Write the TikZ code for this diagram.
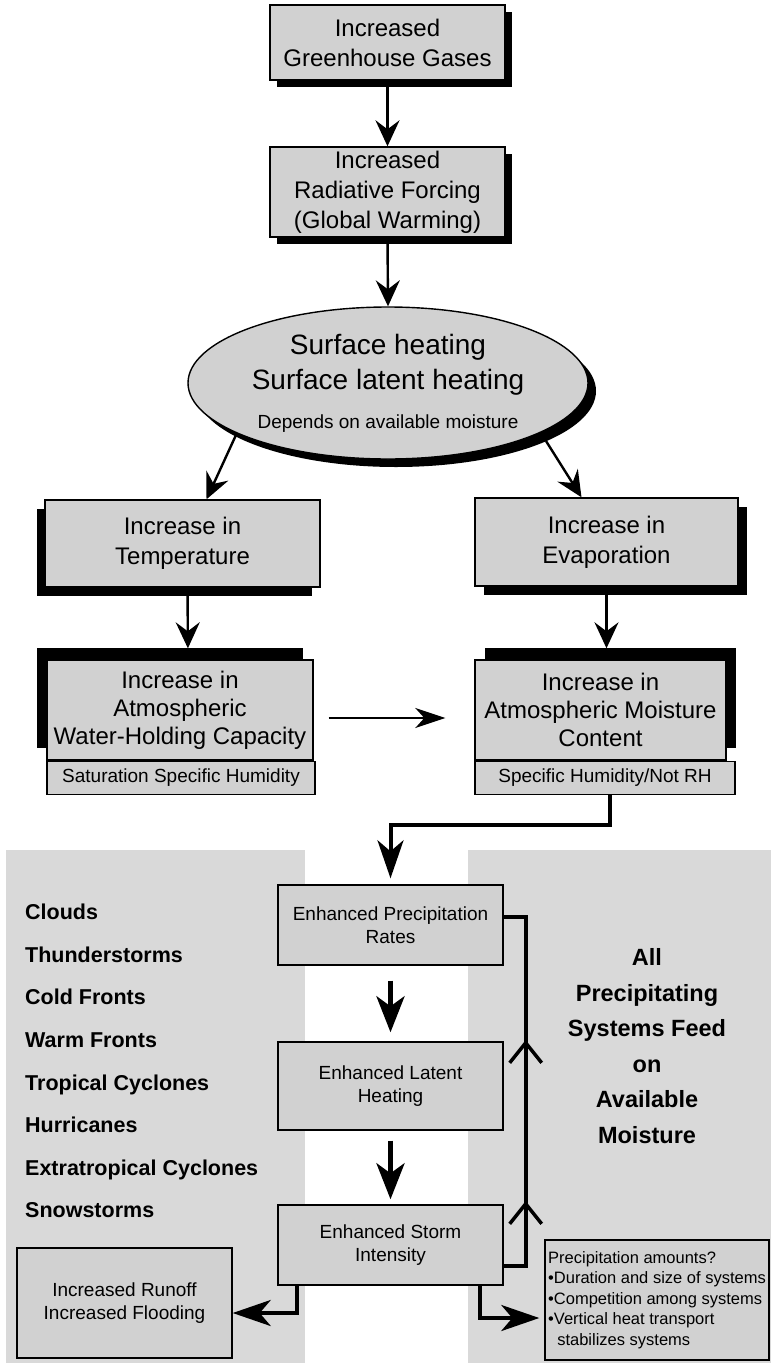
\documentclass[tikz,border=0pt]{standalone}
\usepackage{fontspec}
\setmainfont{Liberation Sans}
\usetikzlibrary{arrows.meta,shapes.geometric,shadows,calc,decorations.markings}
\newcommand\myfs[2]{\fontsize{#1}{#2}\selectfont}
\definecolor{boxgray}{gray}{0.82}
\definecolor{panelgray}{gray}{0.85}
\begin{document}
\begin{tikzpicture}[x=1pt,y=-1pt,
  bx/.style={draw=black, line width=1.4pt, fill=boxgray, inner sep=0pt, align=center},
  topbx/.style={bx, font=\myfs{24}{30}},
  lowbx/.style={bx, font=\myfs{19}{23}},
  subbx/.style={bx, font=\myfs{19}{22}, minimum height=33pt, anchor=north west},
  shBR/.style={general shadow={fill=black, shadow xshift=7pt, shadow yshift=-7pt}},
  shEl/.style={general shadow={fill=black, shadow xshift=8pt, shadow yshift=-8pt}},
  shBL/.style={general shadow={fill=black, shadow xshift=-8pt, shadow yshift=-9pt}},
  shBRb/.style={general shadow={fill=black, shadow xshift=9pt, shadow yshift=-9pt}},
  shTL/.style={general shadow={fill=black, shadow xshift=-10pt, shadow yshift=12pt}},
  shTR/.style={general shadow={fill=black, shadow xshift=10pt, shadow yshift=12pt}},
  arr/.style={line width=2.4pt, -{Stealth[length=26pt, width=24pt, inset=9pt]}},
  harr/.style={line width=2.2pt, -{Stealth[length=30pt, width=20pt, inset=9pt]}},
  thk/.style={line width=4pt, -{Stealth[length=38pt, width=26pt, inset=11pt]}},
  thkarr/.style={line width=5pt, -{Stealth[length=36pt, width=28pt, inset=10pt]}},
  fb/.style={line width=4pt}
]
\useasboundingbox (0,0) rectangle (771,1363);
\fill[white] (0,0) rectangle (771,1363);
% lower panels
\fill[panelgray] (6,850) rectangle (305,1363);
\fill[panelgray] (468,850) rectangle (771,1363);

% top chain
\node[topbx, shBR, minimum width=235pt, minimum height=75pt] (box1) at (387.5,42.5)
  {Increased\\Greenhouse Gases};
\node[topbx, shBR, minimum width=235pt, minimum height=90pt] (box2) at (387.5,192)
  {Increased\\Radiative Forcing\\(Global Warming)};
\node[bx, shEl, ellipse, font=\myfs{28}{35}, minimum width=400pt, minimum height=152pt] (ell) at (388,383)
  {Surface heating\\Surface latent heating\\[4pt]\myfs{19}{35}Depends on available moisture};

\node[topbx, shBL, minimum width=275pt, minimum height=87pt] (temp) at (182.5,543.5)
  {Increase in\\Temperature};
\node[topbx, shBRb, minimum width=263pt, minimum height=88pt] (evap) at (606.5,542)
  {Increase in\\Evaporation};

\node[topbx, shTL, font=\myfs{24}{28}, minimum width=266pt, minimum height=100pt] (water) at (180,710)
  {Increase in\\Atmospheric\\Water-Holding Capacity};
\node[subbx, minimum width=268pt] (wsub) at (water.south west) {Saturation Specific Humidity};

\node[topbx, shTR, font=\myfs{24}{28}, minimum width=251pt, minimum height=100pt] (moist) at (600.5,710)
  {Increase in\\Atmospheric Moisture\\Content};
\node[subbx, minimum width=260pt] (msub) at (moist.south west) {Specific Humidity/Not RH};

% lower chain
\node[lowbx, minimum width=225pt, minimum height=80pt] (precip) at (390.5,925)
  {Enhanced Precipitation\\Rates};
\node[lowbx, minimum width=225pt, minimum height=88pt] (latent) at (390.5,1086)
  {Enhanced Latent\\Heating};
\node[lowbx, minimum width=225pt, minimum height=80pt] (storm) at (390.5,1245)
  {Enhanced Storm\\Intensity};
\node[lowbx, minimum width=215pt, minimum height=110pt] (runoff) at (124.5,1303)
  {Increased Runoff\\Increased Flooding};
\node[bx, font=\myfs{16.5}{20.5}, align=left, minimum width=224pt, minimum height=120pt] (bullets) at (657,1300)
  {Precipitation amounts?\\\textbullet Duration and size of systems\\\textbullet Competition among systems\\\textbullet Vertical heat transport\\\hspace*{0.55em}stabilizes systems};

\node[font=\myfs{21.5}{42.6}\bfseries, align=left, anchor=west, inner sep=0pt] (list) at (25,1061)
  {Clouds\\Thunderstorms\\Cold Fronts\\Warm Fronts\\Tropical Cyclones\\Hurricanes\\Extratropical Cyclones\\Snowstorms};
\node[font=\myfs{23.5}{35.6}\bfseries, align=center, inner sep=0pt] (rtext) at (647,1046)
  {All\\Precipitating\\Systems Feed\\on\\Available\\Moisture};

% connectors
\draw[arr] (box1.south) -- (box2.north);
\draw[arr] (box2.south) -- (ell.north);
\draw[arr] ($(ell.center)+(-152,52)$) -- ($(temp.north)+(24,0)$);
\draw[arr] ($(ell.center)+(158,58)$) -- ($(evap.north)+(-25,0)$);
\draw[arr, shorten >=11pt] ($(temp.south)+(5,0)$) -- ($(water.north)+(8,0)$);
\draw[arr, shorten >=11pt] (evap.south) -- (evap.south |- moist.north);
\draw[harr] ($(water.east)+(15,8)$) -- ($(moist.west)+(-29,8)$);

\draw[thk, shorten >=6pt] ($(msub.south)+(5,0)$) -- ++(0,30) -| (precip.north);
\draw[thkarr, shorten <=15pt, shorten >=9pt] (precip.south) -- (latent.north);
\draw[thkarr, shorten <=10pt, shorten >=5pt] (latent.south) -- (storm.north);
\draw[thk] ($(storm.south)+(-93.5,0)$) |- ($(runoff.east)+(0,10)$);
\draw[thk, shorten >=5pt] ($(storm.south)+(89.5,0)$) |- ($(bullets.west)+(0,18)$);
\draw[fb, postaction={decorate}, decoration={markings,
    mark=at position 87pt with {\arrow{Straight Barb[length=20pt, width=32pt, line width=3.5pt]}},
    mark=at position 248pt with {\arrow{Straight Barb[length=20pt, width=32pt, line width=3.5pt]}}}]
  ($(storm.east)+(0,21)$) -- ++(22,0) |- ($(precip.east)+(0,-8)$);
\end{tikzpicture}
\end{document}
